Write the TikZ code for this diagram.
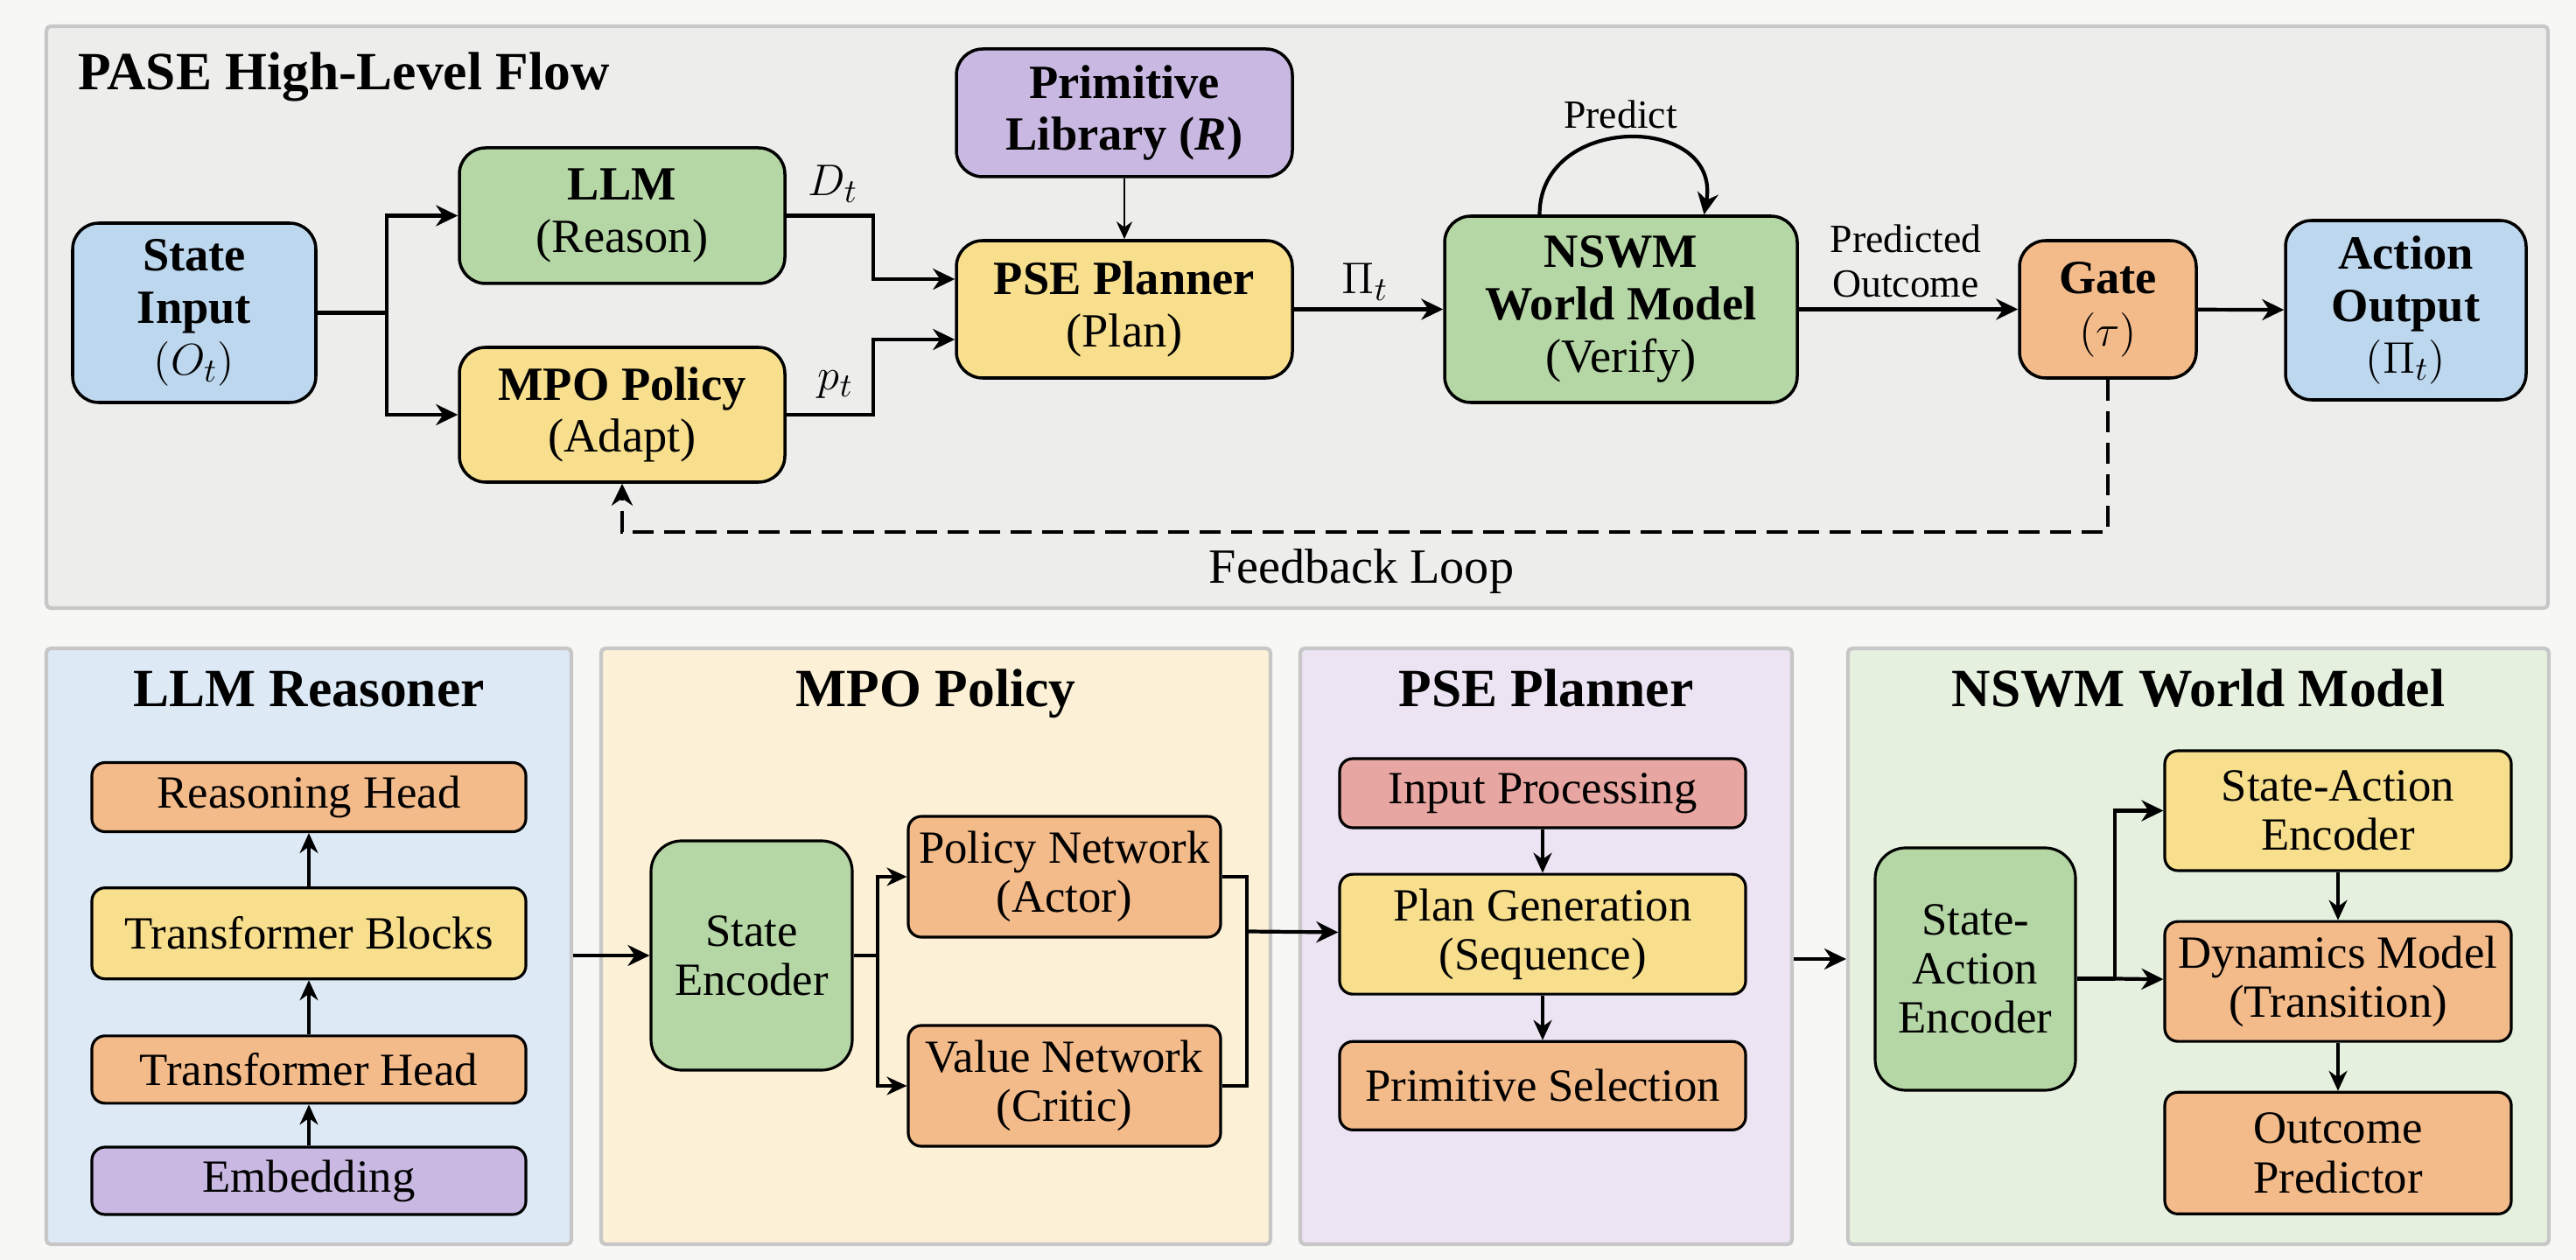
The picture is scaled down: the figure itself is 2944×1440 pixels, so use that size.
\documentclass[tikz,border=0pt]{standalone}
\usepackage{fontspec}
\setmainfont{Liberation Serif}
\usepackage{amsmath}
\usetikzlibrary{positioning,arrows.meta}

\definecolor{pagebg}{HTML}{F7F7F5}
\definecolor{topbg}{HTML}{EDEDEB}
\definecolor{nblue}{HTML}{BDD7EE}
\definecolor{ngreen}{HTML}{B5D6A5}
\definecolor{nyellow}{HTML}{F8DF8E}
\definecolor{npurple}{HTML}{C9B9E2}
\definecolor{norange}{HTML}{F3BA8A}
\definecolor{nred}{HTML}{E8A6A2}
\definecolor{pblue}{HTML}{DDEAF6}
\definecolor{pyellow}{HTML}{FCF1D6}
\definecolor{ppurple}{HTML}{ECE3F3}
\definecolor{pgreen}{HTML}{E5F1DE}

\begin{document}
\begin{tikzpicture}[x=0.1mm, y=-0.1mm,
arr/.style={-{Stealth[length=2.5mm,width=2.4mm]}, line width=1.2pt},
thinarr/.style={-{Stealth[length=2mm,width=1.8mm]}, line width=0.7pt},
subarr/.style={-{Stealth[length=2.3mm,width=2.1mm]}, line width=0.9pt},
fb/.style={arr, dash pattern=on 2.4mm off 1.2mm},
mainbox/.style={draw, line width=1pt, rounded corners=3mm, align=center, inner sep=2pt, font=\fontsize{15.5}{17}\selectfont},
subbox/.style={draw, line width=0.9pt, rounded corners=1.5mm, align=center, inner sep=2pt, minimum width=49.6mm, font=\fontsize{15}{16}\selectfont},
panel/.style={draw=black!22, line width=1.2pt, rounded corners=0.5mm},
ptitle/.style={font=\bfseries\fontsize{17.5}{20}\selectfont},
lbl/.style={font=\fontsize{13}{14.5}\selectfont, align=center},
mlbl/.style={font=\fontsize{15}{17}\selectfont}]

\fill[pagebg] (0,0) rectangle (2944,1440);
\useasboundingbox (0,0) rectangle (2944,1440);

% high-level flow
\node[panel, fill=topbg, minimum width=285.9mm, minimum height=66.5mm] (top) at (1482.5,362.5) {};
\node[ptitle, anchor=base west] (ttl) at (77,103) {PASE High-Level Flow};

\node[mainbox, fill=nblue, minimum width=27.8mm, minimum height=20.5mm] (sin) at (222,357.5) {\textbf{State}\\\textbf{Input}\\$(O_t)$};
\node[mainbox, fill=ngreen, minimum width=37.2mm, minimum height=15.5mm] (llm) at (711,246.5) {\textbf{LLM}\\(Reason)};
\node[mainbox, fill=nyellow, minimum width=37.2mm, minimum height=15.4mm] (mpo) at (711,474) {\textbf{MPO Policy}\\(Adapt)};
\node[mainbox, fill=npurple, minimum width=38.4mm, minimum height=14.6mm] (lib) at (1285,129) {\textbf{Primitive}\\\textbf{Library (\textit{R})}};
\node[mainbox, fill=nyellow, minimum width=38.4mm, minimum height=15.7mm] (pse) at (1285,353.5) {\textbf{PSE Planner}\\(Plan)};
\node[mainbox, fill=ngreen, minimum width=40.3mm, minimum height=21.3mm] (nswm) at (1852.5,353.5) {\textbf{NSWM}\\\textbf{World Model}\\(Verify)};
\node[mainbox, fill=norange, minimum width=20.2mm, minimum height=15.7mm] (gate) at (2409,353.5) {\textbf{Gate}\\$(\tau)$};
\node[mainbox, fill=nblue, minimum width=27.5mm, minimum height=20.5mm] (aout) at (2749.5,354.5) {\textbf{Action}\\\textbf{Output}\\$(\Pi_t)$};

\node[mlbl] (dl) at (952,210) {$D_t$};
\node[mlbl] (pl) at (955,440) {$p_t$};
\node[mlbl] (pil) at (1560,322) {$\Pi_t$};
\node[lbl] (prl) at (1852,131) {Predict};
\node[lbl] (pol) at (2178,298) {Predicted\\Outcome};
\node[font=\fontsize{16}{18}\selectfont] (fbl) at (1556,653) {Feedback Loop};

\coordinate (sp) at (442,357.5);
\draw[line width=1.2pt] (sin.east) -- (sp);
\draw[arr] (sp) |- (llm);
\draw[arr] (sp) |- (mpo);
\draw[arr] (llm.east) -- ++(99,0) |- ([yshift=3.45mm]pse.west);
\draw[arr] (mpo.east) -- ++(99,0) |- ([yshift=-3.45mm]pse.west);
\draw[thinarr] (lib) -- (pse);
\draw[arr] (pse) -- (nswm);
\draw[arr] ([xshift=-9.3mm]nswm.north) to[out=90, in=80, looseness=1.6] ([xshift=9.5mm]nswm.north);
\draw[arr] (nswm) -- (gate);
\draw[arr] (gate) -- (aout);
\draw[fb] (gate.south) -- ++(0,174) -| (mpo.south);

% component panels
\node[panel, fill=pblue, minimum width=60mm, minimum height=68.1mm] (pL) at (353,1081.5) {};
\node[panel, fill=pyellow, minimum width=76.5mm, minimum height=68.1mm] (pM) at (1069.5,1081.5) {};
\node[panel, fill=ppurple, minimum width=56.2mm, minimum height=68.1mm] (pP) at (1767,1081.5) {};
\node[panel, fill=pgreen, minimum width=80.1mm, minimum height=68.1mm] (pN) at (2512.5,1081.5) {};

\node[ptitle, anchor=base] (tL) at (353,808) {LLM Reasoner};
\node[ptitle, anchor=base] (tM) at (1069.5,808) {MPO Policy};
\node[ptitle, anchor=base] (tP) at (1767,808) {PSE Planner};
\node[ptitle, anchor=base] (tN) at (2512.5,808) {NSWM World Model};

\node[subbox, fill=npurple, minimum height=7.7mm] (emb) at (353,1349.5) {Embedding};
\node[subbox, fill=norange, minimum height=7.7mm] (thead) [above=4.7mm of emb] {Transformer Head};
\node[subbox, fill=nyellow, minimum height=10.4mm] (tblk) [above=6.2mm of thead] {Transformer Blocks};
\node[subbox, fill=norange, minimum height=7.9mm] (rhead) [above=6.1mm of tblk] {Reasoning Head};
\draw[subarr] (emb) -- (thead);
\draw[subarr] (thead) -- (tblk);
\draw[subarr] (tblk) -- (rhead);

\node[subbox, fill=ngreen, rounded corners=3.5mm, minimum width=23mm, minimum height=26.2mm] (senc) at (859,1092) {State\\Encoder};
\node[subbox, fill=norange, minimum width=35.7mm, minimum height=13.8mm] (pnet) at (1216.5,1002) {Policy Network\\(Actor)};
\node[subbox, fill=norange, minimum width=35.7mm, minimum height=13.8mm] (vnet) at (1216.5,1241) {Value Network\\(Critic)};
\draw[arr] (pL.east |- senc.west) -- (senc.west);
\coordinate (sp2) at (1003,1092);
\draw[line width=1pt] (senc.east) -- (sp2);
\draw[subarr] (sp2) |- (pnet);
\draw[subarr] (sp2) |- (vnet);
\coordinate (mj) at (1425,1064.5);
\draw[line width=1pt] (pnet) -| (mj) |- (vnet);

\node[subbox, fill=nred, minimum width=46.4mm, minimum height=7.9mm] (inproc) at (1763,906.5) {Input Processing};
\node[subbox, fill=nyellow, minimum width=46.4mm, minimum height=13.7mm] (pgen) [below=5mm of inproc] {Plan Generation\\(Sequence)};
\node[subbox, fill=norange, minimum width=46.4mm, minimum height=10.1mm] (psel) [below=5.1mm of pgen] {Primitive Selection};
\draw[arr] (mj) -- (pgen);
\draw[subarr] (inproc) -- (pgen);
\draw[subarr] (pgen) -- (psel);

\draw[arr] ([yshift=-1.45mm]pP.east) -- ([yshift=-1.45mm]pN.west);

\node[subbox, fill=ngreen, rounded corners=3.5mm, minimum width=22.9mm, minimum height=27.7mm] (saenc) at (2257.5,1107.5) {State-\\Action\\Encoder};
\node[subbox, fill=nyellow, minimum width=39.6mm, minimum height=13.7mm] (saenc2) at (2672,926.5) {State-Action\\Encoder};
\node[subbox, fill=norange, minimum width=39.6mm, minimum height=13.7mm] (dyn) [below=5.5mm of saenc2] {Dynamics Model\\(Transition)};
\node[subbox, fill=norange, minimum width=39.6mm, minimum height=13.9mm] (outp) [below=5.5mm of dyn] {Outcome\\Predictor};
\coordinate (sp3) at (2417,1118.5);
\draw[line width=1.2pt] (saenc.east |- sp3) -- (sp3);
\draw[arr] (sp3) -- (dyn);
\draw[arr] (sp3) |- (saenc2);
\draw[subarr] (saenc2) -- (dyn);
\draw[subarr] (dyn) -- (outp);
\end{tikzpicture}
\end{document}
